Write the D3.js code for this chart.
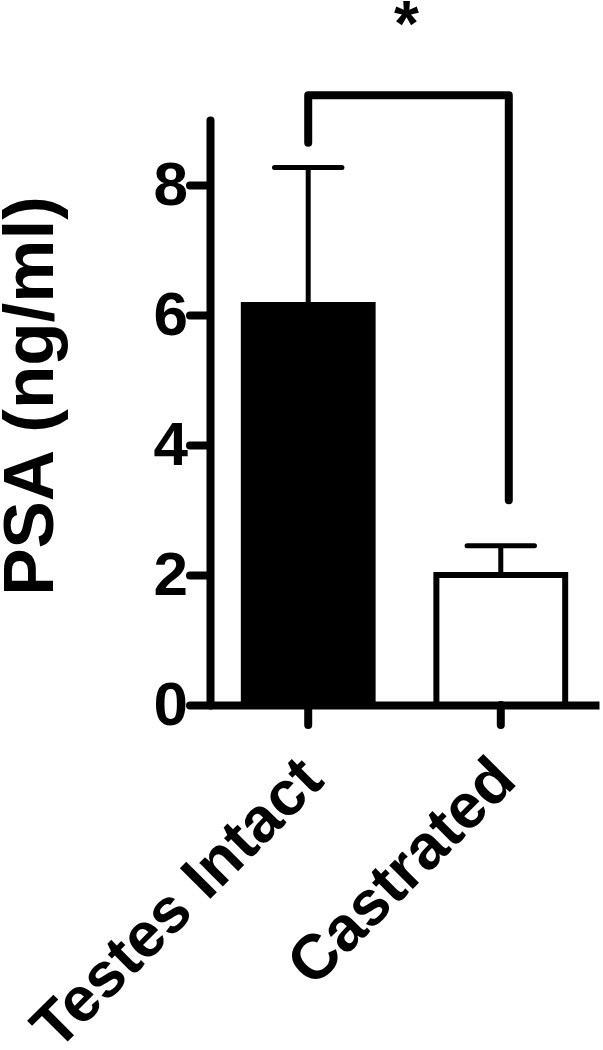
<!DOCTYPE html>
<html>
<head>
<meta charset="utf-8">
<script src="https://cdn.jsdelivr.net/npm/d3@7"></script>
<style>
    body { margin: 0; background: #fff; }
    text { font-family: "Liberation Sans", Arial, sans-serif; font-weight: bold; fill: #000; }
</style>
</head>
<body>
<svg id="chart" width="603" height="1050"></svg>
<script>
// values
var groups = ["Testes Intact", "Castrated"]
var means = [6.2, 2.0]
var errors = [2.07, 0.45]   // upper error bar (SEM)
var fills = ["#000", "#fff"]
var yTicks = [0, 2, 4, 6, 8]
// significance bracket: top height and leg ends, in y units
var bracketTop = 9.38
var bracketEnds = [8.65, 3.15]
var sigLabel = "*"

var svg = d3.select("#chart")

var xScale = d3.scaleBand()
    .domain(groups)
    .range([210, 599])
    .paddingInner(0.30)
    .paddingOuter(0.16)

var yScale = d3.scaleLinear()
    .domain([0, 9])
    .range([705, 120])

function cx(d) { return xScale(d) + xScale.bandwidth() / 2 }

// bars
svg.selectAll(".bar")
    .data(groups)
    .enter().append("rect")
    .attr("class", "bar")
    .attr("x", function (d, i) { return i == 1 ? xScale(d) + 3 : xScale(d) })
    .attr("width", function (d, i) { return i == 1 ? xScale.bandwidth() - 6 : xScale.bandwidth() })
    .attr("y", function (d, i) { return yScale(means[i]) })
    .attr("height", function (d, i) { return yScale(0) - yScale(means[i]) })
    .attr("fill", function (d, i) { return fills[i] })
    .attr("stroke", "#000")
    .attr("stroke-width", function (d, i) { return i == 1 ? 6 : 0 })

// error bars (upper only)
svg.selectAll(".err")
    .data(groups)
    .enter().append("line")
    .attr("x1", cx).attr("x2", cx)
    .attr("y1", function (d, i) { return yScale(means[i]) })
    .attr("y2", function (d, i) { return yScale(means[i] + errors[i]) })
    .attr("stroke", "#000").attr("stroke-width", 5)

svg.selectAll(".cap")
    .data(groups)
    .enter().append("line")
    .attr("x1", function (d) { return cx(d) - xScale.bandwidth() / 4 })
    .attr("x2", function (d) { return cx(d) + xScale.bandwidth() / 4 })
    .attr("y1", function (d, i) { return yScale(means[i] + errors[i]) })
    .attr("y2", function (d, i) { return yScale(means[i] + errors[i]) })
    .attr("stroke", "#000").attr("stroke-width", 5).attr("stroke-linecap", "round")

// y axis
var yAxis = svg.append("g")
    .attr("transform", "translate(210,0)")
    .call(d3.axisLeft(yScale).tickValues(yTicks).tickSize(20).tickSizeOuter(0).tickPadding(2))
yAxis.select(".domain").attr("stroke-width", 8).attr("stroke-linecap", "round")
yAxis.selectAll(".tick line").attr("stroke-width", 8).attr("stroke-linecap", "round")
yAxis.selectAll(".tick text")
    .style("font-size", "62px")
    .attr("font-family", null)

// x axis
var xAxis = svg.append("g")
    .attr("transform", "translate(0,705)")
    .call(d3.axisBottom(xScale).tickSize(20).tickSizeOuter(0).tickFormat(""))
xAxis.select(".domain").attr("stroke-width", 8)
xAxis.selectAll(".tick line").attr("stroke-width", 8).attr("stroke-linecap", "round")

// rotated group labels
svg.selectAll(".xlabel")
    .data(groups)
    .enter().append("text")
    .attr("text-anchor", "end")
    .attr("transform", function (d) { return "translate(" + (cx(d) + 18) + ",783) rotate(-45)" })
    .style("font-size", "63px")
    .text(function (d) { return d })

// y title
svg.append("text")
    .attr("text-anchor", "middle")
    .attr("transform", "translate(53,396) rotate(-90)")
    .style("font-size", "71px")
    .text("PSA (ng/ml)")

// significance bracket
var bracket = d3.line()
svg.append("path")
    .attr("d", bracket([
        [cx(groups[0]), yScale(bracketEnds[0])],
        [cx(groups[0]), yScale(bracketTop)],
        [cx(groups[1]) + 8, yScale(bracketTop)],
        [cx(groups[1]) + 8, yScale(bracketEnds[1])]
    ]))
    .attr("fill", "none")
    .attr("stroke", "#000")
    .attr("stroke-width", 8)
    .attr("stroke-linecap", "round")
    .attr("stroke-linejoin", "round")

svg.append("text")
    .attr("x", (cx(groups[0]) + cx(groups[1]) + 8) / 2 - 2)
    .attr("y", 46)
    .attr("text-anchor", "middle")
    .style("font-size", "64px")
    .text(sigLabel)
</script>
</body>
</html>
